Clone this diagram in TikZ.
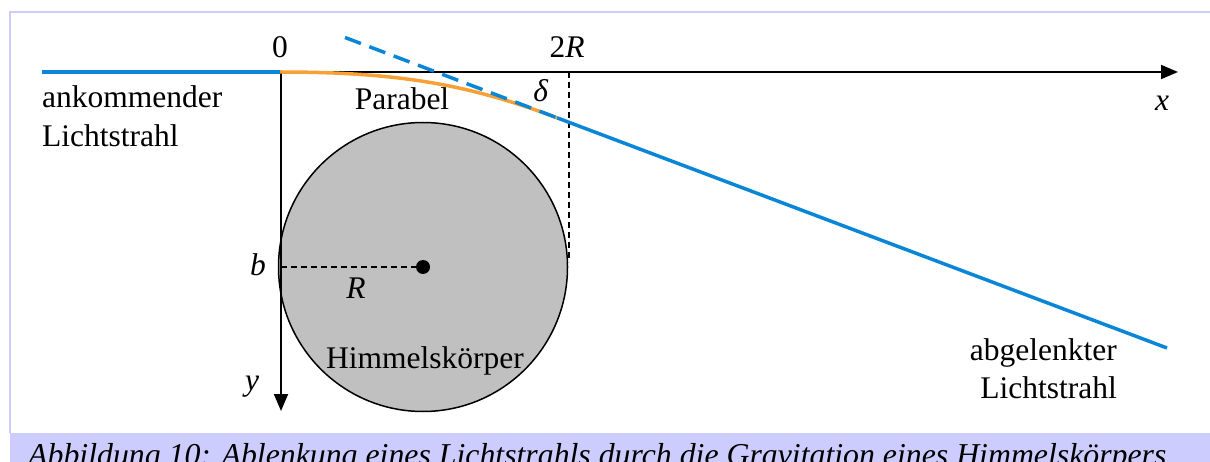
\documentclass[tikz,border=0pt]{standalone}
\usepackage{fontspec}
\setmainfont{Liberation Serif}
\usetikzlibrary{arrows.meta}
\definecolor{rayblue}{HTML}{0A86D6}
\definecolor{rayorange}{HTML}{F7A035}
\definecolor{framebl}{HTML}{CCCCFF}
\definecolor{bodygray}{HTML}{C0C0C0}
\tikzset{
  lbl/.style={inner sep=0pt, font=\fontsize{31.5}{38}\selectfont},
  axisline/.style={line width=2pt, -{Triangle[length=17pt,width=14pt]}},
  ray/.style={rayblue, line width=3.5pt},
  helper/.style={line width=1.3pt, dash pattern=on 6pt off 4pt},
}
\begin{document}
\begin{tikzpicture}[x=1pt,y=-1pt]
\useasboundingbox (0,0) rectangle (1210,462);
% frame and caption bar
\fill[framebl] (10,433) rectangle (1210,462);
\draw[framebl, line width=2.5pt] (1210,12) -- (10,12) -- (10,433);
% coordinates
\coordinate (O) at (280,72);
\coordinate (xend) at (1178,72);
\coordinate (yend) at (281,411);
\coordinate (start) at (42,72);
\coordinate (C) at (423,267);
\coordinate (B) at (281,267);
\coordinate (T) at (569,72);
\coordinate (Tb) at (569,262);
\coordinate (D0) at (345,37.5);
\coordinate (P) at (557,117.8);
\coordinate (E) at (1167,348);
% body
\draw[fill=bodygray, line width=1.5pt] (C) circle[radius=144.5];
\fill (C) circle[radius=7];
\draw[helper] (B) -- (C);
\draw[helper] (T) -- (Tb);
% axes
\draw[axisline] (O) -- (xend);
\draw[axisline] (281,72) -- (yend);
% rays
\draw[ray] (start) -- (O);
\draw[rayorange, line width=3.5pt] (O) .. controls (400,72) and (470,85) .. (P);
\draw[ray, dash pattern=on 17pt off 9pt] (D0) -- (P);
\draw[ray] (P) -- (E);
% labels
\node[lbl, anchor=base] (l0) at (280,58) {0};
\node[lbl, anchor=base] (l2R) at (567,58) {2\textit{R}};
\node[lbl, anchor=base west] (in1) at (42,108) {ankommender};
\node[lbl, anchor=base west] (in2) at (42,147) {Lichtstrahl};
\node[lbl, anchor=base] (par) at (402,110) {Parabel};
\node[lbl, anchor=base] (del) at (541,102) {\textit{δ}};
\node[lbl, anchor=base] (lx) at (1162,111) {\textit{x}};
\node[lbl, anchor=base] (lb) at (258,276) {\textit{b}};
\node[lbl, anchor=base] (lR) at (356,299) {\textit{R}};
\node[lbl, anchor=base] (him) at (425,368) {Himmelskörper};
\node[lbl, anchor=base] (ly) at (252,390) {\textit{y}};
\node[lbl, anchor=base east] (out1) at (1117,360) {abgelenkter};
\node[lbl, anchor=base east] (out2) at (1117,398) {Lichtstrahl};
% caption
\begin{scope}
\clip (0,0) rectangle (1210,462);
\node[lbl, anchor=base west, font=\fontsize{31.8}{36}\selectfont\itshape] (cap) at (28,465) {Abbildung 10: Ablenkung eines Lichtstrahls durch die Gravitation eines Himmelskörpers};
\end{scope}
\end{tikzpicture}
\end{document}
